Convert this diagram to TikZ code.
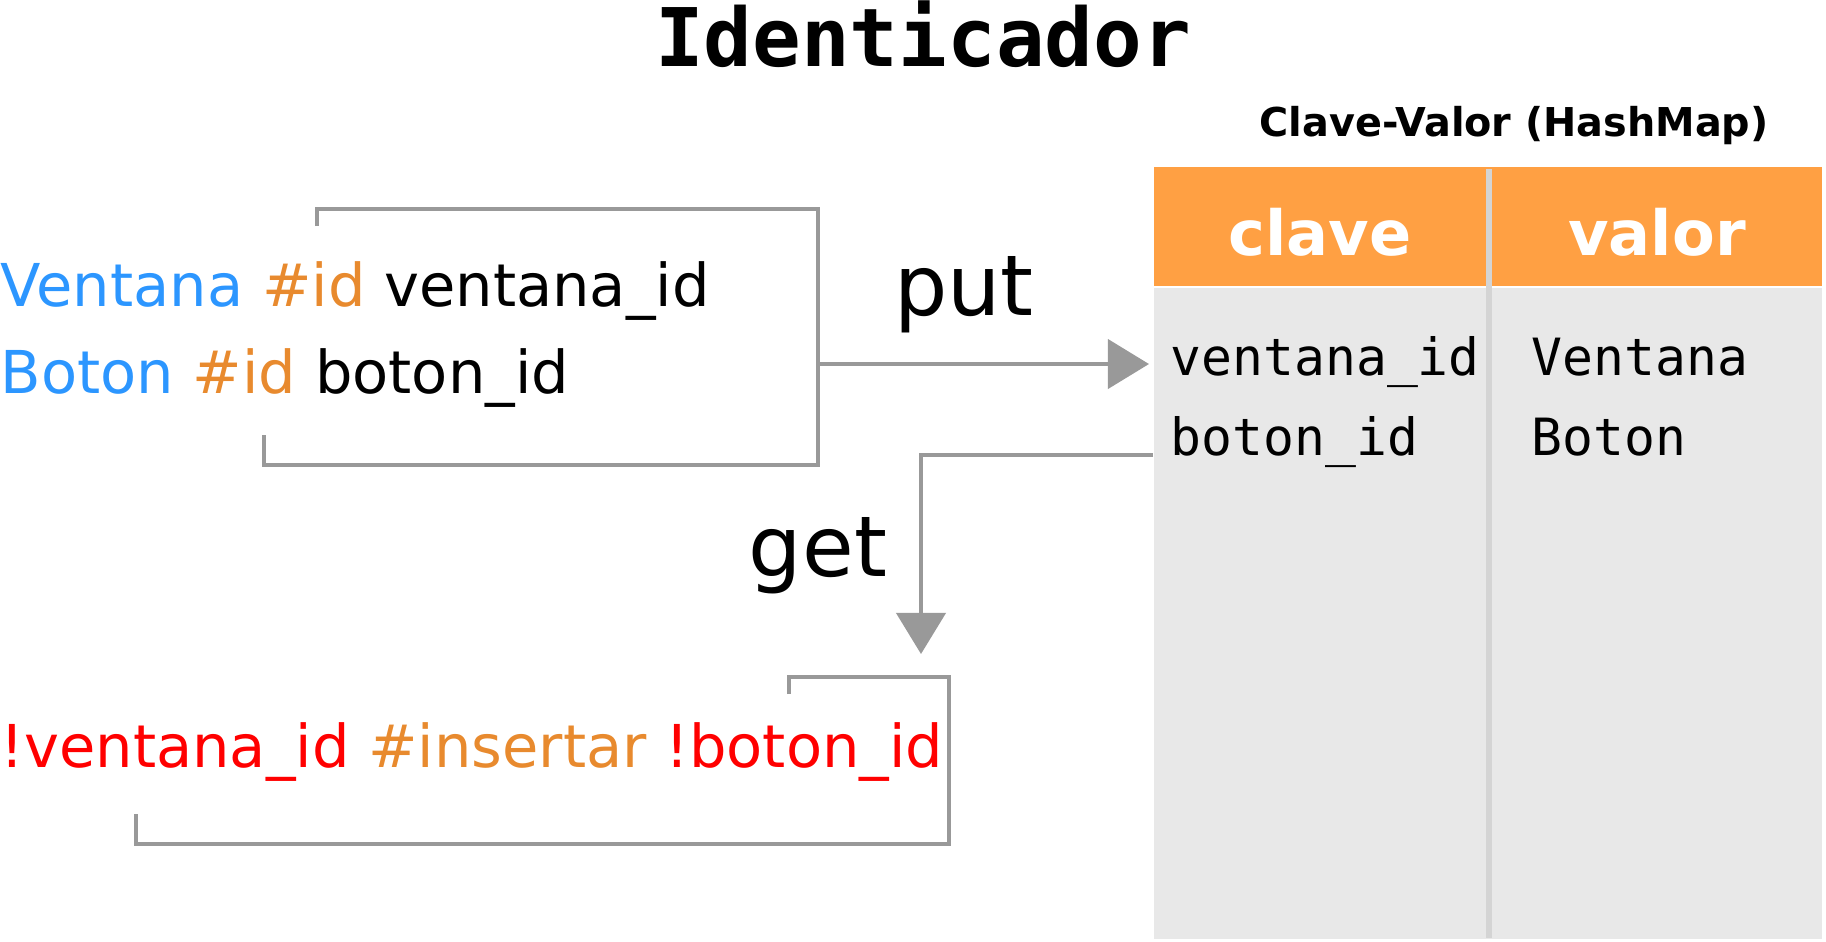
\documentclass[tikz,border=0pt]{standalone}
\usepackage{fontspec}
\setmainfont{DejaVu Sans}
\newfontfamily\monofont{DejaVu Sans Mono}
\usetikzlibrary{arrows.meta,positioning}

\definecolor{azulclase}{RGB}{44,150,255}
\definecolor{naranjaid}{RGB}{232,138,46}
\definecolor{rojoref}{RGB}{255,0,0}
\definecolor{grislinea}{RGB}{153,153,153}
\definecolor{naranjacab}{RGB}{255,160,67}
\definecolor{griscuerpo}{RGB}{232,232,232}
\definecolor{grisdiv}{RGB}{212,212,212}

\tikzset{
  codigo/.style={anchor=base west, inner sep=0pt, font=\fontsize{16.8}{20}\selectfont},
  celda/.style={anchor=base west, inner sep=0pt, font=\monofont\fontsize{14.6}{17}\selectfont},
  cabecera/.style={anchor=base, inner sep=0pt, text=white, font=\bfseries\fontsize{17.7}{21}\selectfont},
  operacion/.style={anchor=base, inner sep=0pt, font=\fontsize{23.9}{28}\selectfont},
  marco/.style={draw=grislinea, line width=0.04cm},
  flecha/.style={draw=grislinea, line width=0.04cm, -{Triangle[length=0.41cm,width=0.49cm]}},
}

\begin{document}
\begin{tikzpicture}[x=0.01cm, y=-0.01cm]
    \useasboundingbox (0,0) rectangle (1826,941);

    % Title
    \node[anchor=base, inner sep=0pt, font=\monofont\bfseries\fontsize{23}{27}\selectfont] (titulo) at (923,66) {Identicador};

    % The hash map table
    \node[anchor=base, inner sep=0pt, font=\bfseries\fontsize{11.3}{13}\selectfont] (leyenda) at (1514,136) {Clave-Valor (HashMap)};
    \node[fill=griscuerpo, inner sep=0pt, minimum width=6.68cm, minimum height=6.51cm, anchor=north west] (cuerpo) at (1153,287) {};
    \node[fill=naranjacab, inner sep=0pt, minimum width=6.68cm, minimum height=1.19cm, anchor=south west] (cabeza) at (cuerpo.north west) {};
    \draw[grisdiv, line width=0.06cm] (1489,169) -- (1489,938);

    \node[cabecera] (clave) at (1320,255) {clave};
    \node[cabecera] (valor) at (1657,255) {valor};

    \node[celda] (clave1) at (1170,375) {ventana\_id};
    \node[celda] (clave2) at (1170,455) {boton\_id};
    \node[celda] (valor1) at (1531,375) {Ventana};
    \node[celda] (valor2) at (1531,455) {Boton};

    % Code lines
    \node[codigo] (linea1) at (0,306) {\textcolor{azulclase}{Ventana} \textcolor{naranjaid}{\#id} ventana\_id};
    \node[codigo] (linea2) at (0,393) {\textcolor{azulclase}{Boton} \textcolor{naranjaid}{\#id} boton\_id};
    \node[codigo, text=rojoref] (linea3) at (0,767) {!ventana\_id \textcolor{naranjaid}{\#insertar} !boton\_id};

    % Brackets round the code
    \draw[marco] (317,226) -- (317,209) -- (818,209) -- (818,465) -- (264,465) -- (264,435);
    \draw[marco] (789,694) -- (789,677) -- (949,677) -- (949,844) -- (136,844) -- (136,814);

    % put and get
    \coordinate (salida) at (818,364);
    \coordinate (nivelget) at (0,455);
    \coordinate (llegada) at (921,654);
    \draw[flecha, shorten >=0.04cm] (salida) -- (cuerpo.west |- salida);
    \draw[flecha] (cuerpo.west |- nivelget) -| (llegada);

    \node[operacion] (put) at (964,315) {put};
    \node[operacion] (get) at (818,576) {get};

\end{tikzpicture}
\end{document}
